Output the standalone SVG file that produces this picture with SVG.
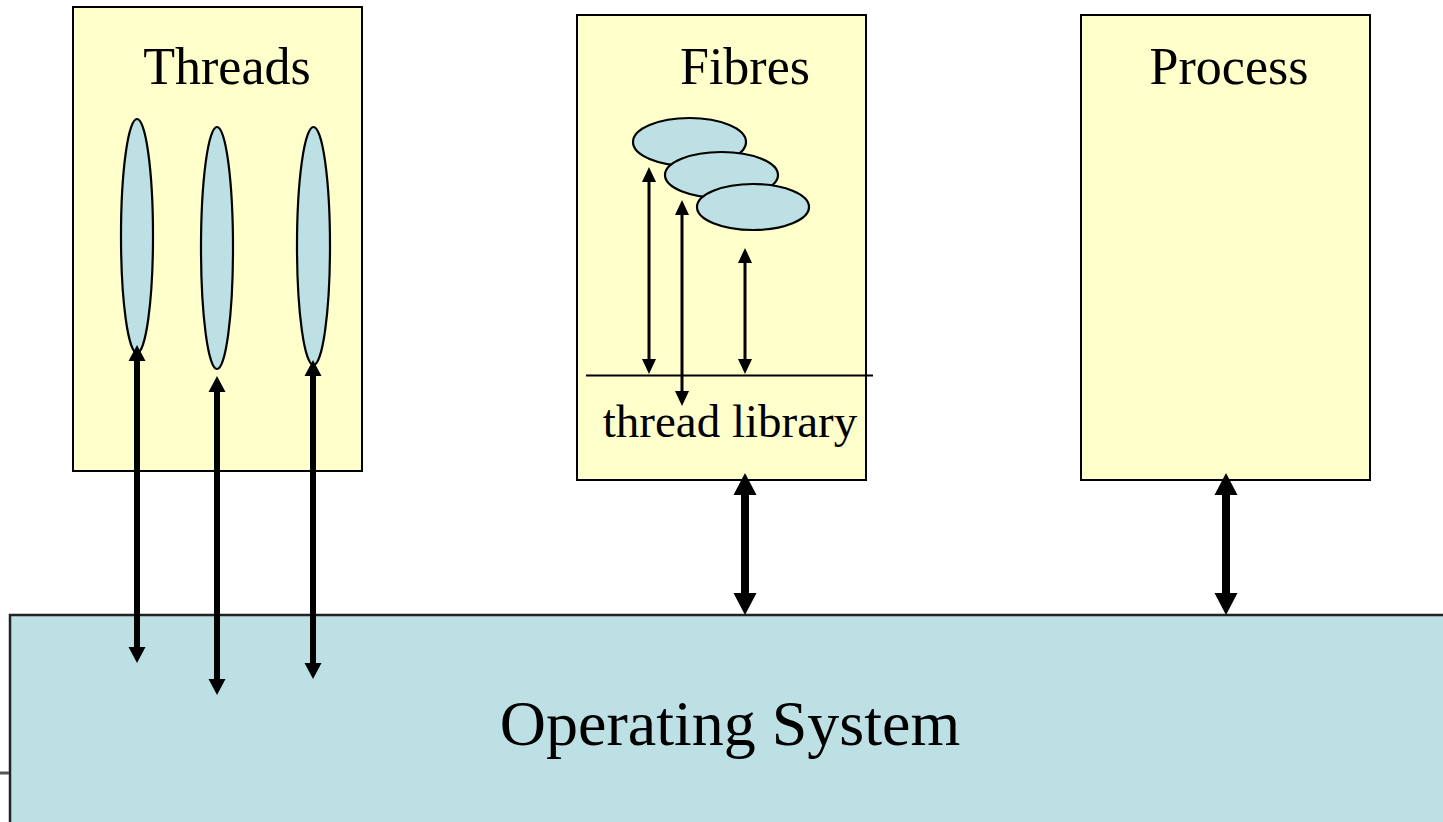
<svg xmlns="http://www.w3.org/2000/svg" width="1443" height="822" viewBox="0 0 1443 822">
  <style>
    .box { fill: #FFFFCC; stroke: #000; stroke-width: 2; }
    .os { fill: #BCE0E3; stroke: #222; stroke-width: 2.5; }
    .blob { fill: #BCE0E3; stroke: #000; stroke-width: 2.2; }
    .title { font-family: "Liberation Serif", "Times New Roman", serif; font-size: 52px; fill: #000; }
    .lib { font-family: "Liberation Serif", "Times New Roman", serif; font-size: 47px; fill: #000; }
    .osText { font-family: "Liberation Serif", "Times New Roman", serif; font-size: 64px; fill: #000; }
    .big { stroke: #000; stroke-width: 8; fill: none; marker-start: url(#headBig); marker-end: url(#headBig); }
    .mid { stroke: #000; stroke-width: 6; fill: none; marker-start: url(#headMid); marker-end: url(#headMid); }
    .thin { stroke: #000; stroke-width: 3; fill: none; marker-start: url(#headThin); marker-end: url(#headThin); }
  </style>
  <defs>
    <marker id="headBig" markerUnits="userSpaceOnUse" viewBox="0 -12 23 24" refX="0" refY="0" markerWidth="23" markerHeight="24" orient="auto-start-reverse" overflow="visible">
      <path d="M0,-11.5 L22,0 L0,11.5 Z" fill="#000"/>
    </marker>
    <marker id="headMid" markerUnits="userSpaceOnUse" viewBox="0 -9 17 18" refX="0" refY="0" markerWidth="17" markerHeight="18" orient="auto-start-reverse" overflow="visible">
      <path d="M0,-8.5 L16,0 L0,8.5 Z" fill="#000"/>
    </marker>
    <marker id="headThin" markerUnits="userSpaceOnUse" viewBox="0 -8 15 16" refX="0" refY="0" markerWidth="15" markerHeight="16" orient="auto-start-reverse" overflow="visible">
      <path d="M0,-7 L15,0 L0,7 Z" fill="#000"/>
    </marker>
  </defs>

  <!-- operating system base layer -->
  <g id="os">
    <rect class="os" x="10" y="615" width="1445" height="220"/>
    <text class="osText" x="730" y="745" text-anchor="middle">Operating System</text>
  </g>
  <line x1="0" y1="773" x2="9" y2="773" stroke="#555" stroke-width="3"/>

  <!-- kernel threads -->
  <g id="threads">
    <rect class="box" x="73" y="7" width="289" height="464"/>
    <text class="title" x="227" y="84" text-anchor="middle">Threads</text>
    <ellipse class="blob" cx="137" cy="236" rx="16" ry="117"/>
    <ellipse class="blob" cx="217" cy="248" rx="16" ry="121"/>
    <ellipse class="blob" cx="313.5" cy="246" rx="16.5" ry="119"/>
  </g>

  <!-- user-level fibres -->
  <g id="fibres">
    <rect class="box" x="577" y="15" width="289" height="465"/>
    <text class="title" x="745" y="84" text-anchor="middle">Fibres</text>
    <ellipse class="blob" cx="689.5" cy="142" rx="56.5" ry="24"/>
    <ellipse class="blob" cx="721.5" cy="175" rx="56.5" ry="23"/>
    <ellipse class="blob" cx="753" cy="207" rx="56" ry="23"/>
    <line x1="586" y1="375.5" x2="873" y2="375.5" stroke="#000" stroke-width="2"/>
    <text class="lib" x="730" y="437" text-anchor="middle">thread library</text>
  </g>

  <!-- single process -->
  <g id="process">
    <rect class="box" x="1081" y="15" width="289" height="465"/>
    <text class="title" x="1229" y="84" text-anchor="middle">Process</text>
  </g>

  <!-- connectors -->
  <g id="connectors">
    <path class="mid" d="M137,361 L137,647"/>
    <path class="mid" d="M217,392 L217,679"/>
    <path class="mid" d="M313,376 L313,663"/>
    <path class="thin" d="M649,182 L649,359"/>
    <path class="thin" d="M682,215 L682,391"/>
    <path class="thin" d="M745,263 L745,359"/>
    <path class="big" d="M745,495 L745,593"/>
    <path class="big" d="M1226,495 L1226,593"/>
  </g>
</svg>
